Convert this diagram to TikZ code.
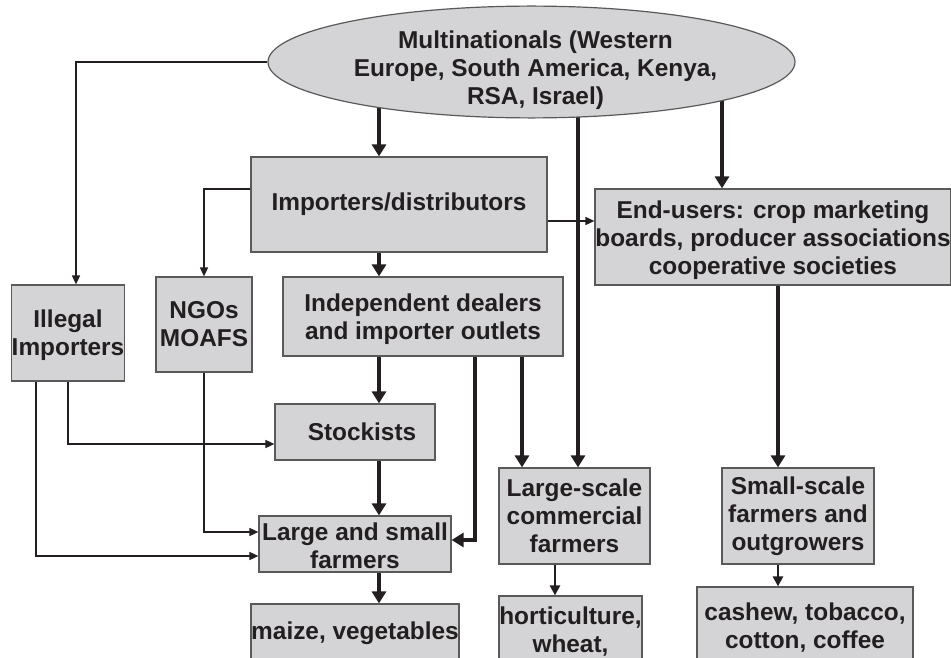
\documentclass[tikz,border=0pt]{standalone}
\usepackage{fontspec}
\setmainfont{Liberation Sans}
\usetikzlibrary{shapes,arrows.meta,backgrounds}
\definecolor{boxgray}{RGB}{212,212,214}
\definecolor{ink}{RGB}{35,31,32}
\newcommand\lift[1]{\rule{0pt}{#1}}

\begin{document}
\begin{tikzpicture}[x=1pt,y=-1pt,
    every node/.style={font=\fontsize{24.4}{28}\selectfont\bfseries,text=ink,align=center,inner sep=0pt},
    box/.style={draw=black!65,line width=1.2pt,fill=boxgray},
    big/.style={draw=ink,line width=4.5pt,-{Triangle[length=12pt,width=14pt]}},
    mid/.style={draw=ink,line width=2.5pt,-{Triangle[length=10pt,width=10pt]}},
    flow/.style={draw=ink,line width=1.5pt,-{Triangle[length=9pt,width=8pt]}}]
  \useasboundingbox (0,0) rectangle (951,658);
  \clip (0,0) rectangle (951,658);

  \node[box,ellipse,inner ysep=-8pt,minimum width=527pt,minimum height=110pt] (multi) at (531.5,62)
    {\lift{34pt}\hspace*{8pt}Multinationals (Western\\\hspace*{8pt}Europe, South America, Kenya,\\\hspace*{8pt}RSA, Israel)};
  \node[box,minimum width=296pt,minimum height=95pt] (imp)     at (399,204.5) {Importers/distributors};
  \node[box,minimum width=280pt,minimum height=79pt] (indep)   at (423,316.5) {\lift{23pt}Independent dealers\\and importer outlets};
  \node[box,minimum width=96pt,minimum height=95pt]  (ngo)     at (204,324.5) {NGOs\\MOAFS};
  \node[box,minimum width=112pt,minimum height=96pt] (illegal) at (68,333)    {\lift{23pt}Illegal\\Importers};
  \node[box,minimum width=356pt,minimum height=96pt] (endu)    at (773,237)   {\lift{24pt}End-users: crop marketing\\boards, producer associations\\cooperative societies};
  \node[box,minimum width=160pt,minimum height=56pt] (stock)   at (355,432)   {\hspace*{14pt}Stockists};
  \node[box,minimum width=192pt,minimum height=56pt] (lsf)     at (355,544)   {\lift{21pt}Large and small\\farmers};
  \node[box,minimum width=208pt,minimum height=58pt] (maize)   at (355,633)   {maize, vegetables};
  \node[box,minimum width=151pt,minimum height=96pt] (lscf)    at (574.5,516) {Large-scale\\commercial\\farmers};
  \node[box,minimum width=152pt,minimum height=96pt] (sscf)    at (798,516)   {Small-scale\\farmers and\\outgrowers};
  \node[box,minimum width=143pt,minimum height=66pt] (hort)    at (570.5,629) {\lift{23pt}horticulture,\\wheat,};
  \node[box,minimum width=216pt,minimum height=77pt] (cash)    at (805,625.5) {\lift{21pt}cashew, tobacco,\\cotton, coffee};

  % columns of the vertical flows
  \coordinate (spine)   at (379,0);
  \coordinate (outcol)  at (475,0);
  \coordinate (lgcol)   at (522,0);
  \coordinate (hortcol) at (555,0);
  \coordinate (direct)  at (578,0);
  \coordinate (endcol)  at (722,0);
  \coordinate (smcol)   at (778,0);
  \coordinate (ie) at ([yshift=-16.5pt]imp.east);

  \begin{scope}[on background layer]
    \draw[big] (multi.center -| spine) -- (imp.north -| spine);
    \draw[big] (imp.south -| spine) -- (indep.north -| spine);
    \draw[big] (indep.south -| spine) -- (stock.north -| spine);
    \draw[big] (stock.south -| spine) -- (lsf.north -| spine);
    \draw[big] (lsf.south -| spine) -- (maize.north -| spine);
    \draw[big] (multi.center -| direct) -- (lscf.north -| direct);
    \draw[big] (multi.center -| endcol) -- (endu.north -| endcol);
    \draw[big] (endu.south -| smcol) -- (sscf.north -| smcol);
    \draw[big] (indep.south -| lgcol) -- (lscf.north -| lgcol);
    \draw[big] (indep.south -| outcol) |- ([yshift=4pt]lsf.east);
    \draw[mid] (lscf.south -| hortcol) -- (hort.north -| hortcol);
    \draw[mid] (sscf.south -| smcol) -- (cash.north -| smcol);
    \draw[flow] (ie) -- (ie -| endu.west);
    \draw[flow] ([yshift=15.5pt]imp.west) -| (ngo.north);
    \draw[flow] (multi.west) -| ([xshift=8pt]illegal.north);
    \draw[flow] (illegal.south) |- ([yshift=-12pt]stock.west);
    \draw[flow] ([xshift=-32pt]illegal.south) |- ([yshift=-12pt]lsf.west);
    \draw[flow] (ngo.south) |- ([yshift=12pt]lsf.west);
  \end{scope}
\end{tikzpicture}
\end{document}
